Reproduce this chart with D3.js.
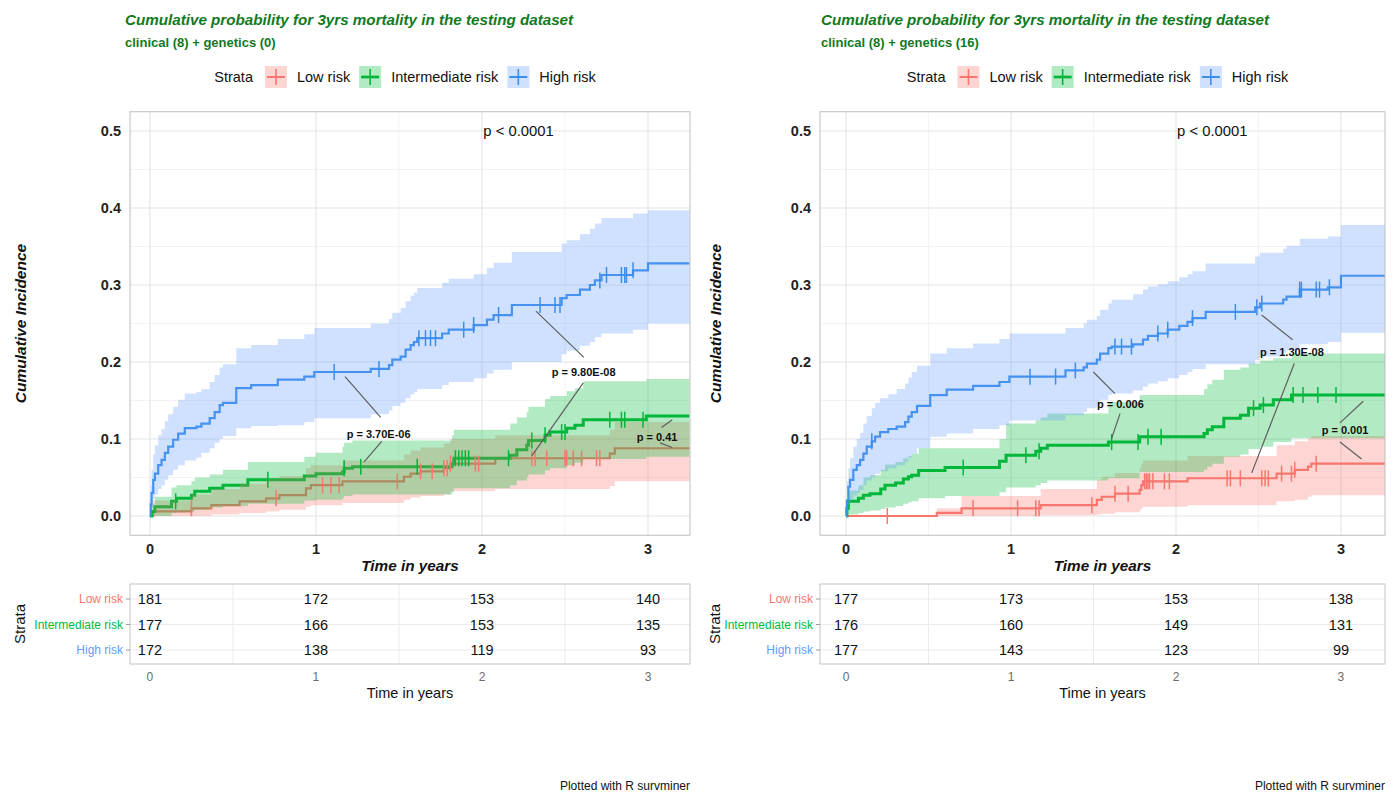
<!DOCTYPE html>
<html>
<head>
<meta charset="utf-8">
<script src="https://cdn.jsdelivr.net/npm/d3@7"></script>
<style>
  body { margin: 0; background: #fff; }
  svg { display: block; }
  text { font-family: "Liberation Sans", Arial, Helvetica, sans-serif; }
</style>
</head>
<body>
<svg id="chart" width="1394" height="793"></svg>
<script>
// ---------- shared labels ----------
const strata = ["Low risk", "Intermediate risk", "High risk"];
const yTicks = [0, 0.1, 0.2, 0.3, 0.4, 0.5];
const xTicks = [0, 1, 2, 3];
const tableTimes = [0, 1, 2, 3];
const titleText = "Cumulative probability for 3yrs mortality in the testing dataset";
const overallP = "p < 0.0001";

// ---------- model: clinical (8) + genetics (0) ----------
// step curves: [time, cumulative incidence]
const g0LowCurve = [[0,0],[0.02,0.006],[0.25,0.010],[0.37,0.014],[0.54,0.019],[0.70,0.023],[0.78,0.027],[0.94,0.036],[0.97,0.040],[1.16,0.045],[1.53,0.051],[1.57,0.055],[1.63,0.058],[1.77,0.062],[1.81,0.068],[2.08,0.075],[2.77,0.081],[2.80,0.088]];
const g0IntCurve = [[0,0],[0.01,0.006],[0.03,0.012],[0.13,0.019],[0.16,0.023],[0.25,0.027],[0.27,0.032],[0.36,0.036],[0.44,0.040],[0.59,0.047],[0.93,0.052],[1.0,0.055],[1.16,0.057],[1.17,0.062],[1.22,0.064],[1.82,0.068],[1.83,0.075],[2.17,0.079],[2.21,0.086],[2.27,0.092],[2.28,0.098],[2.38,0.105],[2.41,0.109],[2.51,0.114],[2.56,0.118],[2.61,0.125],[2.99,0.130]];
const g0HighCurve = [[0,0],[0.005,0.015],[0.01,0.03],[0.02,0.047],[0.03,0.055],[0.05,0.066],[0.07,0.073],[0.09,0.082],[0.11,0.09],[0.14,0.099],[0.17,0.107],[0.21,0.114],[0.28,0.116],[0.31,0.12],[0.36,0.127],[0.39,0.135],[0.42,0.144],[0.44,0.147],[0.52,0.166],[0.61,0.170],[0.77,0.177],[0.93,0.181],[0.99,0.187],[1.33,0.191],[1.44,0.196],[1.46,0.203],[1.51,0.207],[1.54,0.216],[1.57,0.222],[1.59,0.226],[1.61,0.231],[1.76,0.237],[1.80,0.242],[1.95,0.248],[2.03,0.255],[2.07,0.261],[2.18,0.274],[2.48,0.283],[2.51,0.287],[2.59,0.294],[2.65,0.300],[2.68,0.306],[2.72,0.313],[2.91,0.319],[3.0,0.328]];
// confidence bands: [time, lower, upper]
const g0LowBand = [[0,0,0],[0.02,0,0.02],[0.25,0,0.028],[0.37,0.002,0.035],[0.54,0.004,0.042],[0.70,0.006,0.048],[0.78,0.008,0.052],[0.94,0.012,0.062],[0.97,0.014,0.066],[1.16,0.017,0.072],[1.53,0.021,0.08],[1.57,0.024,0.085],[1.63,0.026,0.089],[1.77,0.028,0.094],[1.81,0.032,0.1],[2.08,0.035,0.105],[2.77,0.039,0.112],[2.80,0.045,0.122]];
const g0IntBand = [[0,0,0],[0.01,0,0.015],[0.03,0,0.025],[0.13,0.004,0.037],[0.16,0.005,0.04],[0.25,0.006,0.045],[0.27,0.008,0.05],[0.36,0.011,0.054],[0.44,0.013,0.06],[0.59,0.016,0.07],[0.93,0.020,0.077],[1.0,0.021,0.082],[1.16,0.023,0.09],[1.17,0.026,0.095],[1.22,0.028,0.098],[1.82,0.031,0.105],[1.83,0.036,0.112],[2.17,0.040,0.12],[2.21,0.046,0.128],[2.27,0.050,0.135],[2.28,0.054,0.142],[2.38,0.059,0.152],[2.41,0.062,0.156],[2.51,0.066,0.162],[2.56,0.069,0.166],[2.61,0.074,0.175],[2.99,0.077,0.178]];
const g0HighBand = [[0,0,0],[0.005,0.002,0.04],[0.01,0.01,0.06],[0.02,0.022,0.08],[0.03,0.028,0.092],[0.05,0.035,0.105],[0.07,0.04,0.113],[0.09,0.047,0.123],[0.11,0.053,0.132],[0.14,0.06,0.142],[0.17,0.066,0.151],[0.21,0.072,0.159],[0.28,0.076,0.161],[0.31,0.082,0.165],[0.36,0.088,0.174],[0.39,0.095,0.183],[0.42,0.1,0.193],[0.44,0.104,0.197],[0.52,0.114,0.218],[0.61,0.117,0.222],[0.77,0.118,0.23],[0.93,0.122,0.236],[0.99,0.127,0.244],[1.33,0.132,0.25],[1.44,0.137,0.256],[1.46,0.143,0.264],[1.51,0.147,0.27],[1.54,0.153,0.279],[1.57,0.158,0.286],[1.59,0.161,0.29],[1.61,0.165,0.296],[1.76,0.17,0.303],[1.80,0.174,0.308],[1.95,0.179,0.314],[2.03,0.185,0.322],[2.07,0.19,0.329],[2.18,0.2,0.343],[2.48,0.21,0.354],[2.51,0.215,0.358],[2.59,0.221,0.366],[2.65,0.226,0.373],[2.68,0.232,0.38],[2.72,0.237,0.387],[2.91,0.242,0.393],[3.0,0.25,0.397]];
// censored observations (times)
const g0LowCensor = [0.25,0.76,1.04,1.09,1.14,1.49,1.63,1.70,1.77,1.79,1.81,1.96,1.98,2.30,2.32,2.39,2.50,2.51,2.55,2.60,2.69,2.71];
const g0IntCensor = [0.155,0.71,1.17,1.27,1.61,1.84,1.86,1.88,1.90,1.92,2.16,2.30,2.38,2.48,2.50,2.77,2.84,2.86,2.97];
const g0HighCensor = [1.11,1.38,1.62,1.66,1.69,1.72,1.89,1.95,2.10,2.35,2.44,2.47,2.71,2.75,2.84,2.86,2.87,2.91];
// numbers at risk at tableTimes
const g0LowRisk = [181, 172, 153, 140];
const g0IntRisk = [177, 166, 153, 135];
const g0HighRisk = [172, 138, 119, 93];
// pairwise p-values: label anchor [t, v] and leader segments [t1, v1, t2, v2]
const g0PairP = [
  { text: "p = 3.70E-06", at: [1.185, 0.107], leaders: [[1.175, 0.181, 1.39, 0.128], [1.396, 0.097, 1.289, 0.070]] },
  { text: "p = 9.80E-08", at: [2.42, 0.187], leaders: [[2.325, 0.266, 2.614, 0.206], [2.61, 0.173, 2.30, 0.078]] },
  { text: "p = 0.41", at: [2.932, 0.103], leaders: [[3.082, 0.115, 3.146, 0.125], [3.072, 0.095, 3.146, 0.089]] }
];
const g0EndTime = 3.25;

// ---------- model: clinical (8) + genetics (16) ----------
const g16LowCurve = [[0,0],[0.55,0.004],[0.70,0.010],[1.18,0.014],[1.52,0.021],[1.55,0.025],[1.63,0.029],[1.78,0.034],[1.79,0.040],[1.80,0.045],[2.07,0.049],[2.61,0.055],[2.72,0.060],[2.80,0.064],[2.82,0.068]];
const g16IntCurve = [[0,0],[0.005,0.01],[0.014,0.019],[0.075,0.023],[0.105,0.027],[0.145,0.029],[0.21,0.035],[0.236,0.040],[0.30,0.043],[0.347,0.048],[0.378,0.051],[0.398,0.053],[0.44,0.059],[0.60,0.063],[0.93,0.071],[0.97,0.079],[1.15,0.084],[1.18,0.088],[1.22,0.092],[1.59,0.096],[1.78,0.103],[2.17,0.107],[2.19,0.112],[2.22,0.116],[2.29,0.127],[2.39,0.131],[2.44,0.140],[2.51,0.144],[2.59,0.151],[2.70,0.157]];
const g16HighCurve = [[0,0],[0.005,0.02],[0.014,0.038],[0.024,0.047],[0.044,0.060],[0.065,0.066],[0.085,0.073],[0.105,0.081],[0.125,0.090],[0.156,0.097],[0.176,0.103],[0.206,0.109],[0.256,0.113],[0.307,0.116],[0.358,0.122],[0.378,0.129],[0.398,0.135],[0.43,0.143],[0.51,0.157],[0.61,0.164],[0.77,0.169],[0.93,0.174],[0.99,0.181],[1.33,0.189],[1.44,0.193],[1.46,0.198],[1.52,0.203],[1.54,0.211],[1.59,0.218],[1.61,0.220],[1.74,0.223],[1.80,0.229],[1.83,0.234],[1.89,0.237],[1.95,0.242],[2.02,0.247],[2.07,0.252],[2.10,0.257],[2.18,0.265],[2.48,0.271],[2.51,0.276],[2.65,0.281],[2.67,0.285],[2.75,0.294],[2.92,0.297],[3.0,0.312]];
const g16LowBand = [[0,0,0],[0.55,0,0.01],[0.70,0,0.026],[1.18,0.001,0.035],[1.52,0.002,0.047],[1.55,0.003,0.051],[1.63,0.005,0.056],[1.78,0.008,0.062],[1.79,0.01,0.068],[1.80,0.012,0.072],[2.07,0.014,0.078],[2.61,0.019,0.092],[2.72,0.021,0.097],[2.80,0.025,0.101],[2.82,0.027,0.104]];
const g16IntBand = [[0,0,0],[0.005,0,0.022],[0.014,0.002,0.033],[0.075,0.004,0.04],[0.105,0.006,0.05],[0.145,0.007,0.053],[0.21,0.009,0.06],[0.236,0.011,0.067],[0.30,0.013,0.07],[0.347,0.016,0.075],[0.378,0.018,0.078],[0.398,0.019,0.081],[0.44,0.023,0.088],[0.60,0.026,0.088],[0.93,0.031,0.1],[0.97,0.037,0.12],[1.15,0.04,0.124],[1.18,0.043,0.128],[1.22,0.046,0.133],[1.59,0.049,0.148],[1.78,0.057,0.157],[2.17,0.06,0.165],[2.19,0.064,0.171],[2.22,0.068,0.177],[2.29,0.077,0.19],[2.39,0.08,0.193],[2.44,0.087,0.198],[2.51,0.09,0.202],[2.59,0.096,0.205],[2.70,0.101,0.211]];
const g16HighBand = [[0,0,0],[0.005,0.003,0.045],[0.014,0.015,0.062],[0.024,0.02,0.075],[0.044,0.027,0.09],[0.065,0.03,0.1],[0.085,0.034,0.108],[0.105,0.04,0.12],[0.125,0.046,0.13],[0.156,0.051,0.14],[0.176,0.055,0.147],[0.206,0.058,0.153],[0.256,0.062,0.158],[0.307,0.066,0.165],[0.358,0.07,0.172],[0.378,0.076,0.18],[0.398,0.081,0.187],[0.43,0.088,0.195],[0.51,0.103,0.211],[0.61,0.107,0.218],[0.77,0.113,0.224],[0.93,0.118,0.23],[0.99,0.124,0.237],[1.33,0.131,0.244],[1.44,0.135,0.25],[1.46,0.14,0.255],[1.52,0.144,0.26],[1.54,0.151,0.268],[1.59,0.157,0.276],[1.61,0.159,0.281],[1.74,0.163,0.288],[1.80,0.168,0.294],[1.83,0.172,0.298],[1.89,0.175,0.301],[1.95,0.179,0.305],[2.02,0.183,0.31],[2.07,0.187,0.314],[2.10,0.191,0.318],[2.18,0.197,0.328],[2.48,0.203,0.337],[2.51,0.207,0.342],[2.65,0.212,0.347],[2.67,0.215,0.351],[2.75,0.223,0.36],[2.92,0.226,0.363],[3.0,0.238,0.378]];
const g16LowCensor = [0.25,0.77,1.04,1.15,1.17,1.49,1.63,1.71,1.81,1.82,1.83,1.84,1.86,1.93,1.96,2.31,2.33,2.39,2.52,2.54,2.56,2.64,2.70,2.72,2.85];
const g16IntCensor = [0.71,1.09,1.17,1.61,1.77,1.83,1.91,2.47,2.53,2.71,2.77,2.86,2.97];
const g16HighCensor = [0.156,1.115,1.27,1.39,1.63,1.67,1.73,1.89,1.95,2.10,2.36,2.49,2.52,2.75,2.76,2.85,2.87,2.93];
const g16LowRisk = [177, 173, 153, 138];
const g16IntRisk = [176, 160, 149, 131];
const g16HighRisk = [177, 143, 123, 99];
const g16PairP = [
  { text: "p = 0.006", at: [1.521, 0.146], leaders: [[1.499, 0.187, 1.63, 0.159], [1.661, 0.133, 1.61, 0.101]] },
  { text: "p = 1.30E-08", at: [2.509, 0.213], leaders: [[2.519, 0.261, 2.707, 0.229], [2.717, 0.198, 2.459, 0.056]] },
  { text: "p = 0.001", at: [2.883, 0.112], leaders: [[3.135, 0.149, 2.994, 0.121], [2.994, 0.096, 3.125, 0.074]] }
];
const g16EndTime = 3.27;

// ---------- styling ----------
const lineColors = ["#F8766D", "#00B73A", "#3C8EEA"];
const bandColors = ["#F8766D", "#00BA38", "#619CFF"];
const labelColors = ["#F8766D", "#00BA38", "#619CFF"];
const lineWidths = [2.2, 3, 2.2];
const titleColor = "#127a1e";

const svg = d3.select("#chart");
svg.append("rect").attr("width", 1394).attr("height", 793).attr("fill", "#fff");

function valueAt(curve, t) {
  let v = curve[0][1];
  for (const [ti, vi] of curve) if (ti <= t) v = vi;
  return v;
}

function drawPanel(cfg) {
  const x = d3.scaleLinear().domain(cfg.xDomain).range([cfg.left, cfg.right]);
  const y = d3.scaleLinear().domain([-0.025, 0.525]).range([535.25, 111.75]);
  const top = y.range()[1], bottom = y.range()[0];
  const g = svg.append("g");
  const mid = (cfg.left + cfg.right) / 2;

  // title block
  g.append("text").attr("x", cfg.titleX).attr("y", 25)
    .attr("font-size", 15.2).attr("font-weight", "bold").attr("font-style", "italic")
    .attr("fill", titleColor).text(titleText);
  g.append("text").attr("x", cfg.titleX).attr("y", 47)
    .attr("font-size", 13).attr("font-weight", "bold")
    .attr("fill", titleColor).text(cfg.subtitle);

  // legend
  const lg = g.append("g");
  let cx = 0;
  const st = lg.append("text").attr("x", cx).attr("y", 82).attr("font-size", 14.5).attr("fill", "#111").text("Strata");
  cx += st.node().getComputedTextLength() + 12;
  strata.forEach((s, i) => {
    lg.append("rect").attr("x", cx).attr("y", 66).attr("width", 22).attr("height", 22)
      .attr("fill", bandColors[i]).attr("fill-opacity", 0.3);
    lg.append("line").attr("x1", cx + 2).attr("x2", cx + 20).attr("y1", 77).attr("y2", 77)
      .attr("stroke", lineColors[i]).attr("stroke-width", lineWidths[i] * 0.9);
    lg.append("line").attr("x1", cx + 11).attr("x2", cx + 11).attr("y1", 69).attr("y2", 85)
      .attr("stroke", lineColors[i]).attr("stroke-width", 1.6);
    cx += 22 + 10;
    const t = lg.append("text").attr("x", cx).attr("y", 82).attr("font-size", 14.5).attr("fill", "#111").text(s);
    cx += t.node().getComputedTextLength() + (i < 2 ? 9 : 0);
  });
  lg.attr("transform", `translate(${mid - 5 - cx / 2},0)`);

  // grid
  const grid = g.append("g");
  d3.range(0.05, 0.5, 0.1).forEach(v => grid.append("line")
    .attr("x1", cfg.left).attr("x2", cfg.right).attr("y1", y(v)).attr("y2", y(v))
    .attr("stroke", "#f0f0f0").attr("stroke-width", 0.8));
  cfg.minorX.forEach(t => grid.append("line")
    .attr("x1", x(t)).attr("x2", x(t)).attr("y1", top).attr("y2", bottom)
    .attr("stroke", "#f0f0f0").attr("stroke-width", 0.8));
  yTicks.forEach(v => grid.append("line")
    .attr("x1", cfg.left).attr("x2", cfg.right).attr("y1", y(v)).attr("y2", y(v))
    .attr("stroke", "#e4e4e4").attr("stroke-width", 1.1));
  xTicks.forEach(t => grid.append("line")
    .attr("x1", x(t)).attr("x2", x(t)).attr("y1", top).attr("y2", bottom)
    .attr("stroke", "#e4e4e4").attr("stroke-width", 1.1));

  // clip to panel
  const clipId = "clip" + cfg.id;
  g.append("clipPath").attr("id", clipId).append("rect")
    .attr("x", cfg.left).attr("y", top).attr("width", cfg.right - cfg.left).attr("height", bottom - top);
  const plot = g.append("g").attr("clip-path", `url(#${clipId})`);

  const line = d3.line().x(d => x(d[0])).y(d => y(d[1])).curve(d3.curveStepAfter);
  const area = d3.area().x(d => x(d[0])).y0(d => y(d[1])).y1(d => y(d[2])).curve(d3.curveStepAfter);

  // step curves
  cfg.curves.forEach((c, i) => {
    const last = c[c.length - 1];
    plot.append("path").datum(c.concat([[cfg.endTime, last[1]]]))
      .attr("d", line).attr("fill", "none")
      .attr("stroke", lineColors[i]).attr("stroke-width", lineWidths[i]);
  });
  // confidence ribbons
  cfg.bands.forEach((b, i) => {
    const last = b[b.length - 1];
    plot.append("path").datum(b.concat([[cfg.endTime, last[1], last[2]]]))
      .attr("d", area).attr("fill", bandColors[i]).attr("fill-opacity", 0.3);
  });
  // censor marks
  cfg.censors.forEach((cs, i) => {
    cs.forEach(t => {
      const v = valueAt(cfg.curves[i], t);
      plot.append("line").attr("x1", x(t)).attr("x2", x(t))
        .attr("y1", y(v) - 8).attr("y2", y(v) + 8)
        .attr("stroke", lineColors[i]).attr("stroke-width", 1.5);
    });
  });

  // pairwise comparisons
  cfg.pairP.forEach(p => {
    p.leaders.forEach(l => plot.append("line")
      .attr("x1", x(l[0])).attr("y1", y(l[1])).attr("x2", x(l[2])).attr("y2", y(l[3]))
      .attr("stroke", "#5f5f5f").attr("stroke-width", 1.2));
    plot.append("text").attr("x", x(p.at[0])).attr("y", y(p.at[1]))
      .attr("dominant-baseline", "central").attr("font-size", 11).attr("font-weight", "bold")
      .attr("fill", "#111").text(p.text);
  });
  plot.append("text").attr("x", x(2.22)).attr("y", y(0.5)).attr("dominant-baseline", "central")
    .attr("text-anchor", "middle").attr("font-size", 14.8).attr("fill", "#111").text(overallP);

  // panel border
  g.append("rect").attr("x", cfg.left).attr("y", top).attr("width", cfg.right - cfg.left).attr("height", bottom - top)
    .attr("fill", "none").attr("stroke", "#bdbdbd").attr("stroke-width", 1);

  // axes text
  yTicks.forEach(v => g.append("text").attr("x", cfg.left - 9).attr("y", y(v)).attr("dominant-baseline", "central")
    .attr("text-anchor", "end").attr("font-size", 14.5).attr("font-weight", "bold").attr("fill", "#222")
    .text(d3.format(".1f")(v)));
  xTicks.forEach(t => g.append("text").attr("x", x(t)).attr("y", 554).attr("text-anchor", "middle")
    .attr("font-size", 14.5).attr("font-weight", "bold").attr("fill", "#222").text(t));
  g.append("text").attr("x", mid).attr("y", 571).attr("text-anchor", "middle")
    .attr("font-size", 15.3).attr("font-weight", "bold").attr("font-style", "italic").attr("fill", "#111")
    .text("Time in years");
  g.append("text").attr("transform", `translate(${cfg.yTitleX},${(top + bottom) / 2}) rotate(-90)`)
    .attr("text-anchor", "middle").attr("dominant-baseline", "central")
    .attr("font-size", 15.5).attr("font-weight", "bold").attr("font-style", "italic").attr("fill", "#111")
    .text("Cumulative Incidence");

  // risk table
  const tTop = 584, tBottom = 664;
  const rowY = [599, 624.5, 650];
  const tg = g.append("g");
  rowY.forEach(ry => tg.append("line").attr("x1", cfg.left).attr("x2", cfg.right).attr("y1", ry).attr("y2", ry)
    .attr("stroke", "#ebebeb").attr("stroke-width", 1));
  [0.5, 1.5, 2.5].forEach(t => tg.append("line").attr("x1", x(t)).attr("x2", x(t)).attr("y1", tTop).attr("y2", tBottom)
    .attr("stroke", "#ebebeb").attr("stroke-width", 1));
  tg.append("rect").attr("x", cfg.left).attr("y", tTop).attr("width", cfg.right - cfg.left).attr("height", tBottom - tTop)
    .attr("fill", "none").attr("stroke", "#c4c4c4").attr("stroke-width", 1);
  cfg.risk.forEach((row, i) => {
    tg.append("line").attr("x1", cfg.left - 4).attr("x2", cfg.left).attr("y1", rowY[i]).attr("y2", rowY[i])
      .attr("stroke", "#9a9a9a").attr("stroke-width", 1);
    tg.append("text").attr("x", cfg.left - 7).attr("y", rowY[i]).attr("dominant-baseline", "central")
      .attr("text-anchor", "end").attr("font-size", 12).attr("fill", labelColors[i]).text(strata[i]);
    row.forEach((n, j) => tg.append("text").attr("x", x(tableTimes[j])).attr("y", rowY[i])
      .attr("dominant-baseline", "central").attr("text-anchor", "middle")
      .attr("font-size", 14.5).attr("fill", "#111").text(n));
  });
  tableTimes.forEach(t => tg.append("text").attr("x", x(t)).attr("y", 681).attr("text-anchor", "middle")
    .attr("font-size", 12).attr("fill", "#6b6b6b").text(t));
  tg.append("text").attr("x", mid).attr("y", 698).attr("text-anchor", "middle")
    .attr("font-size", 14.5).attr("fill", "#111").text("Time in years");
  tg.append("text").attr("transform", `translate(${cfg.yTitleX - 1},624) rotate(-90)`)
    .attr("text-anchor", "middle").attr("dominant-baseline", "central")
    .attr("font-size", 15).attr("fill", "#111").text("Strata");

  g.append("text").attr("x", cfg.right).attr("y", 790).attr("text-anchor", "end")
    .attr("font-size", 12).attr("fill", "#111").text("Plotted with R survminer");
}

drawPanel({
  id: "g0", left: 130, right: 690, xDomain: [-0.12, 3.253], titleX: 125, yTitleX: 20,
  subtitle: "clinical (8) + genetics (0)", minorX: [1.5, 2.5], endTime: g0EndTime,
  curves: [g0LowCurve, g0IntCurve, g0HighCurve],
  bands: [g0LowBand, g0IntBand, g0HighBand],
  censors: [g0LowCensor, g0IntCensor, g0HighCensor],
  risk: [g0LowRisk, g0IntRisk, g0HighRisk],
  pairP: g0PairP
});
drawPanel({
  id: "g16", left: 820, right: 1385, xDomain: [-0.158, 3.267], titleX: 821, yTitleX: 715,
  subtitle: "clinical (8) + genetics (16)", minorX: [0.5, 1.5, 2.5], endTime: g16EndTime,
  curves: [g16LowCurve, g16IntCurve, g16HighCurve],
  bands: [g16LowBand, g16IntBand, g16HighBand],
  censors: [g16LowCensor, g16IntCensor, g16HighCensor],
  risk: [g16LowRisk, g16IntRisk, g16HighRisk],
  pairP: g16PairP
});
</script>
</body>
</html>
